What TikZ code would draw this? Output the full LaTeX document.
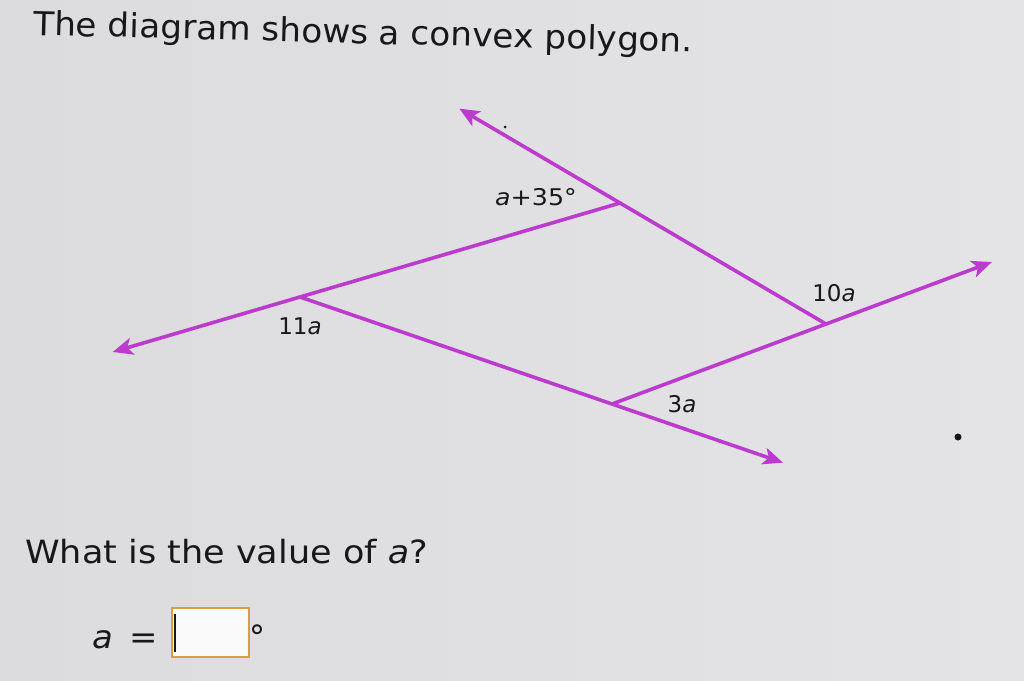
\documentclass[tikz,border=0pt]{standalone}
\usepackage{fontspec}
\setmainfont{DejaVu Sans}
\usetikzlibrary{arrows.meta,calc}
\definecolor{bgL}{RGB}{220,220,222}
\definecolor{bgM}{RGB}{238,238,239}
\definecolor{bgR}{RGB}{228,228,230}
\definecolor{mag}{RGB}{188,58,206}
\definecolor{boxor}{RGB}{214,160,64}
\definecolor{ink}{RGB}{24,24,24}
\tikzset{
  ray/.style={draw=mag, line width=3.6pt, line cap=round},
  tipped/.style={ray, -{Stealth[length=20pt,width=17pt,inset=5pt]}},
  anglelbl/.style={text=ink, font=\fontsize{23}{27}\selectfont, inner sep=0pt},
  bigtxt/.style={text=ink, font=\fontsize{33}{39}\selectfont, inner sep=0pt},
  qtxt/.style={text=ink, font=\fontsize{32}{38}\selectfont, inner sep=0pt},
  ansbox/.style={draw=boxor, line width=2pt, fill=white!70!bgM},
  speck/.style={fill=ink, draw=none}
}
\begin{document}
\begin{tikzpicture}[x=1pt,y=-1pt]
\useasboundingbox (0,0) rectangle (1024,680);
\shade[left color=bgL, middle color=bgM, right color=bgR] (0,0) rectangle (1024,680);

% vertices
\coordinate (A) at (620,203);
\coordinate (B) at (300,297);
\coordinate (C) at (612,404);
\coordinate (D) at (826,324);
% arrow ends
\coordinate (E1) at ($(D)!1.78!(A)$);
\coordinate (E2) at ($(A)!1.585!(B)$);
\coordinate (E3) at ($(B)!1.548!(C)$);
\coordinate (E4) at ($(C)!1.775!(D)$);

\draw[tipped] (D) -- (E1);
\draw[tipped] (A) -- (E2);
\draw[tipped] (B) -- (E3);
\draw[tipped] (C) -- (E4);

% angle labels
\node[anglelbl, xscale=1.1, transform shape] (lA) at (536,197) {\textit{a}+35°};
\node[anglelbl] (lD) at (834,293) {10\textit{a}};
\node[anglelbl] (lB) at (300,326) {11\textit{a}};
\node[anglelbl] (lC) at (682,404) {3\textit{a}};

% texts
\node[bigtxt, anchor=base west, rotate=-1.5, xscale=1.04, transform shape] (title) at (33,35) {The diagram shows a convex polygon.};
\node[qtxt, anchor=base west, xscale=1.095, transform shape] (q) at (25,563) {What is the value of \textit{a}?};
\node[qtxt, anchor=base west, xscale=1.06, transform shape] (aeq) at (92,648) {\textit{a} \,=};
\draw[ansbox] (172,608) rectangle (249,657);
\draw[ink, line width=1.6pt] (175,614) -- (175,652);
\node[qtxt, anchor=base west] (deg) at (249,648) {°};

% specks
\fill[speck] (958,437) circle (3.5pt);
\fill[speck] (505,127) circle (1.5pt);
\end{tikzpicture}
\end{document}
